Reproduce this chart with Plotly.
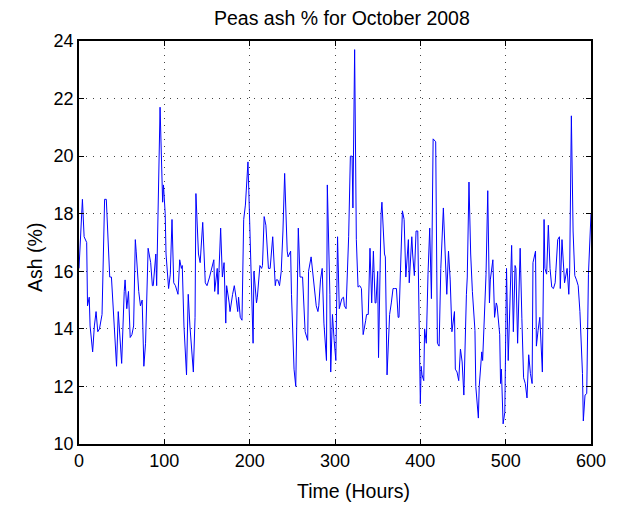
import plotly.graph_objects as go

# Hourly ash readings for peas, October 2008
hours = [
    0, 4, 6, 9, 10, 12, 13, 16, 18, 20, 22, 24, 27, 30, 32, 36, 38, 41, 44, 46,
    50, 53, 54, 56, 58, 60, 62, 64, 66, 67, 70, 72, 74, 76, 78, 81, 84, 86, 87, 90,
    91, 95, 98, 99, 101, 102, 105, 107, 109, 111, 113, 116, 118, 120, 121, 123, 126, 128, 130, 134,
    136, 137, 140, 142, 145, 148, 150, 153, 156, 158, 159, 162, 163, 166, 168, 170, 172, 173, 176, 177,
    180, 182, 184, 186, 187, 189, 191, 193, 195, 198, 199, 204, 205, 208, 209, 212, 214, 215, 217, 219,
    222, 224, 227, 230, 231, 233, 235, 237, 239, 241, 244, 245, 248, 249, 252, 254, 257, 259, 262, 263,
    265, 268, 269, 272, 274, 276, 278, 280, 281, 283, 285, 287, 290, 291, 294, 295, 297, 299, 301, 303,
    305, 308, 310, 311, 313, 316, 318, 320, 321, 323, 325, 327, 329, 331, 333, 336, 337, 339, 341, 343,
    345, 347, 348, 350, 351, 354, 355, 358, 359, 361, 364, 366, 368, 370, 372, 374, 375, 379, 381, 383,
    386, 387, 390, 391, 393, 395, 397, 400, 401, 402, 404, 405, 407, 409, 411, 413, 415, 418, 420, 422,
    424, 427, 429, 431, 433, 435, 437, 440, 441, 443, 445, 447, 449, 451, 454, 455, 457, 459, 461, 464,
    465, 468, 469, 472, 473, 475, 477, 479, 481, 482, 485, 487, 489, 490, 493, 494, 495, 497, 499, 501,
    503, 507, 509, 511, 512, 514, 517, 519, 521, 523, 525, 527, 529, 531, 532, 535, 536, 538, 540, 543,
    545, 546, 548, 550, 552, 554, 556, 558, 560, 561, 563, 564, 566, 568, 569, 572, 574, 575, 577, 579,
    581, 583, 585, 587, 590, 591, 593, 595, 597, 600,
]
ash = [
    16.1, 18.5, 17.2, 17.0, 14.8, 15.1, 14.1, 13.2, 14.1, 14.6, 13.9, 14.0, 14.5, 18.5, 18.5, 15.8, 15.8, 14.1, 12.7, 14.6,
    12.8, 15.3, 15.7, 14.7, 15.3, 13.7, 13.8, 14.1, 17.1, 16.7, 15.3, 14.8, 15.0, 12.7, 13.5, 16.8, 16.3, 15.5, 15.5, 16.6,
    15.5, 21.7, 18.4, 19.0, 18.0, 16.6, 15.4, 15.9, 17.8, 15.6, 15.5, 15.2, 16.4, 16.1, 16.2, 14.1, 12.4, 15.2, 14.1, 12.5,
    14.4, 18.7, 16.6, 16.3, 17.7, 15.6, 15.5, 15.8, 16.2, 16.4, 15.3, 16.1, 15.2, 17.5, 15.8, 16.3, 14.2, 15.5, 14.9, 14.6,
    15.2, 15.5, 15.1, 14.6, 15.1, 14.4, 14.3, 17.8, 18.3, 19.8, 18.8, 13.5, 16.0, 14.9, 15.1, 16.2, 16.1, 16.2, 17.9, 17.6,
    16.1, 16.1, 17.2, 15.5, 15.7, 15.7, 15.5, 16.0, 17.4, 19.4, 16.7, 16.5, 16.7, 15.2, 12.6, 12.0, 17.5, 15.8, 15.8, 15.1,
    13.9, 13.6, 16.0, 16.5, 15.9, 15.45, 14.8, 14.6, 14.8, 15.7, 16.1, 14.2, 12.9, 19.0, 15.2, 12.5, 14.5, 13.6, 12.9, 17.2,
    14.7, 15.05, 15.1, 14.8, 14.7, 17.2, 20.0, 20.0, 18.2, 23.7, 17.1, 15.45, 15.5, 15.4, 13.8, 14.3, 14.5, 14.5, 16.8, 14.9,
    16.7, 14.9, 14.9, 16.0, 13.0, 18.0, 18.4, 16.6, 16.5, 12.4, 14.5, 14.9, 15.4, 15.4, 15.4, 14.4, 14.4, 18.1, 17.8, 15.8,
    17.1, 15.6, 17.2, 16.6, 15.85, 17.4, 17.4, 11.4, 12.7, 12.4, 12.2, 14.0, 13.5, 15.9, 17.5, 15.05, 20.6, 20.5, 13.5, 13.4,
    16.1, 18.2, 16.6, 15.2, 16.7, 15.7, 13.9, 14.6, 12.6, 12.5, 12.2, 13.3, 12.85, 11.7, 15.2, 15.8, 19.1, 16.6, 15.3, 13.95,
    12.0, 10.9, 12.0, 13.2, 12.9, 14.2, 15.9, 18.8, 14.9, 15.7, 16.4, 14.4, 14.9, 14.8, 13.8, 12.1, 12.6, 10.7, 11.1, 16.1,
    12.9, 16.9, 13.9, 16.2, 16.1, 13.5, 16.8, 14.35, 12.3, 12.1, 11.6, 13.1, 12.45, 12.1, 16.3, 16.7, 13.4, 13.95, 14.4, 12.5,
    17.8, 16.1, 15.9, 17.6, 16.1, 15.45, 15.4, 15.6, 16.5, 17.1, 17.2, 15.4, 17.1, 16.1, 15.6, 16.1, 15.2, 16.0, 21.4, 17.4,
    15.85, 15.7, 15.5, 14.6, 12.45, 10.8, 11.7, 11.75, 15.9, 18.0,
]

x_ticks = [0, 100, 200, 300, 400, 500, 600]
y_ticks = [10, 12, 14, 16, 18, 20, 22, 24]

FONT = "Liberation Sans, Arial, sans-serif"

fig = go.Figure(
    go.Scatter(
        x=hours,
        y=ash,
        mode="lines",
        line=dict(color="#0000ff", width=1),
        hoverinfo="x+y",
    )
)

axis_common = dict(
    showline=True,
    linecolor="black",
    linewidth=1.5,
    mirror="ticks",
    ticks="inside",
    ticklen=5,
    tickwidth=1,
    tickcolor="black",
    showgrid=True,
    gridcolor="#444444",
    gridwidth=1,
    griddash="1px,6px",
    zeroline=False,
    tickfont=dict(family=FONT, size=18, color="black"),
)

fig.update_xaxes(range=[0, 600], tickvals=x_ticks, **axis_common)
fig.update_yaxes(range=[10, 24], tickvals=y_ticks, **axis_common)

label_font = dict(family=FONT, size=19.5, color="black")

fig.update_layout(
    width=622,
    height=505,
    margin=dict(l=79, r=31, t=41, b=61),
    paper_bgcolor="white",
    plot_bgcolor="white",
    showlegend=False,
    annotations=[
        # Title
        dict(text="Peas ash % for October 2008", x=0.514, y=1.058,
             xref="paper", yref="paper", xanchor="center", yanchor="middle",
             showarrow=False, font=label_font),
        # x-axis label
        dict(text="Time (Hours)", x=0.537, y=-0.117,
             xref="paper", yref="paper", xanchor="center", yanchor="middle",
             showarrow=False, font=label_font),
        # y-axis label
        dict(text="Ash (%)", x=-0.086, y=0.464, textangle=-90,
             xref="paper", yref="paper", xanchor="center", yanchor="middle",
             showarrow=False, font=label_font),
    ],
)

fig.write_html("out.html")
